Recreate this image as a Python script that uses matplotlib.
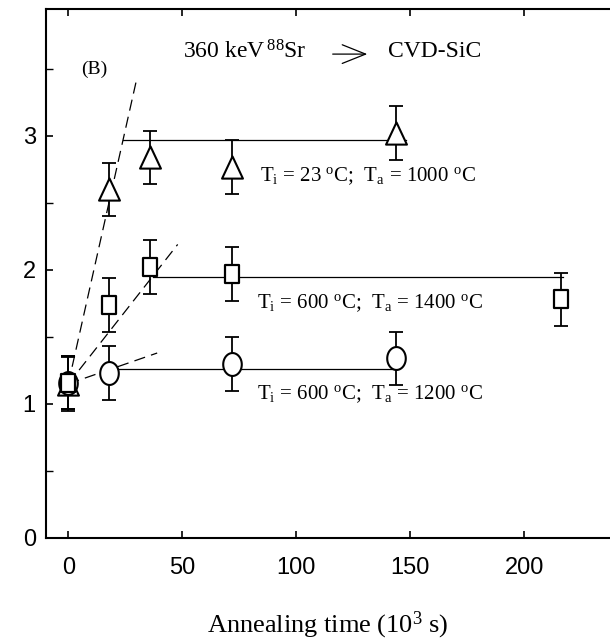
import numpy as np
import matplotlib
matplotlib.use("Agg")
import matplotlib.pyplot as plt
from matplotlib.path import Path

plt.rcParams['font.family'] = 'Liberation Serif'
plt.rcParams['mathtext.fontset'] = 'custom'
plt.rcParams['mathtext.rm'] = 'Liberation Serif'
plt.rcParams['mathtext.it'] = 'Liberation Serif:italic'

# annealing time (10^3 s) and values
t_tri = [0, 18, 36, 72, 144]
y_tri = [1.15, 2.60, 2.84, 2.77, 3.02]
e_tri = [0.20, 0.20, 0.20, 0.20, 0.20]

t_sq = [0, 18, 36, 72, 216]
y_sq = [1.16, 1.74, 2.02, 1.97, 1.78]
e_sq = [0.20, 0.20, 0.20, 0.20, 0.20]

t_ci = [0, 18, 72, 144]
y_ci = [1.16, 1.23, 1.30, 1.34]
e_ci = [0.20, 0.20, 0.20, 0.20]

# plateau levels (x start, x end, level)
plat_tri = (24, 148, 2.97)
plat_sq = (37, 217, 1.95)
plat_ci = (18, 144, 1.26)

# initial slopes (dashed), from (0, 1.15)
dash_start = 1.15
dash_end = [(29.7, 3.40), (48, 2.19), (39, 1.38)]

labels = [r"T$_{\rm i}$ = 23 $^{\rm o}$C;  T$_{\rm a}$ = 1000 $^{\rm o}$C",
          r"T$_{\rm i}$ = 600 $^{\rm o}$C;  T$_{\rm a}$ = 1400 $^{\rm o}$C",
          r"T$_{\rm i}$ = 600 $^{\rm o}$C;  T$_{\rm a}$ = 1200 $^{\rm o}$C"]

# slightly tall markers, as in the scanned original
th = np.linspace(0, 2*np.pi, 60)
m_circ = Path(np.column_stack([0.81*np.cos(th), np.sin(th)]), closed=True)
m_sq = Path([(-0.77, -1), (0.77, -1), (0.77, 1), (-0.77, 1), (-0.77, -1)], closed=True)
m_tri = Path([(0, 1), (-0.94, -1), (0.94, -1), (0, 1)], closed=True)

fig = plt.figure(figsize=(6.10, 6.41), dpi=100)
ax = fig.add_axes([0.0746, 0.1607, 0.9254, 0.826])

for x1, y1 in dash_end:
    ax.plot([0, x1], [dash_start, y1], color='k', lw=0.9, ls=(0, (9, 5)))

for p in (plat_tri, plat_sq, plat_ci):
    ax.plot([p[0], p[1]], [p[2], p[2]], color='k', lw=0.9)

kw = dict(fmt='none', ecolor='k', elinewidth=1.3, capsize=5, capthick=1.3)
ax.errorbar(t_tri, y_tri, yerr=e_tri, **kw)
ax.errorbar(t_sq, y_sq, yerr=e_sq, **kw)
ax.errorbar(t_ci, y_ci, yerr=e_ci, **kw)

ax.plot(t_tri, y_tri, ls='none', marker=m_tri, ms=16, mfc='white', mec='k', mew=1.5)
ax.plot(t_ci, y_ci, ls='none', marker=m_circ, ms=16.5, mfc='white', mec='k', mew=1.5)
ax.plot(t_sq, y_sq, ls='none', marker=m_sq, ms=12.5, mfc='white', mec='k', mew=1.6)

ax.text(84, 2.70, labels[0], fontsize=15, va='center')
ax.text(83, 1.75, labels[1], fontsize=15, va='center')
ax.text(83, 1.07, labels[2], fontsize=15, va='center')

ax.text(5.5, 3.5, "(B)", fontsize=14, va='center', ha='left')
ax.text(50.3, 3.63, r"360 keV$\,^{88}$Sr", fontsize=17, va='center')
ax.annotate("", xy=(132.4, 3.61), xytext=(114.8, 3.61),
            arrowprops=dict(arrowstyle='->, head_length=0.7, head_width=0.28',
                            color='k', lw=0.9, mutation_scale=24))
ax.text(140.3, 3.63, "CVD-SiC", fontsize=17, va='center')

ax.set_xlim(-10, 237.7)
ax.set_ylim(0, 3.95)
ax.set_xticks([0, 50, 100, 150, 200])
ax.set_yticks([0, 1, 2, 3])
ax.set_yticks([0.5, 1.5, 2.5, 3.5], minor=True)
ax.tick_params(axis='both', direction='in', length=5, width=1.2, labelsize=17, top=True)
ax.tick_params(axis='y', which='minor', direction='in', length=5, width=1.0)
ax.tick_params(axis='x', pad=14)
ax.tick_params(axis='y', pad=7)
for lab in ax.get_xticklabels() + ax.get_yticklabels():
    lab.set_family('Liberation Sans')
ax.spines['right'].set_visible(False)
for s in ('left', 'bottom', 'top'):
    ax.spines[s].set_linewidth(1.5)

ax.set_xlabel(r"Annealing time (10$^3$ s)", fontsize=19, labelpad=22)

fig.savefig("out.png", dpi=100)
